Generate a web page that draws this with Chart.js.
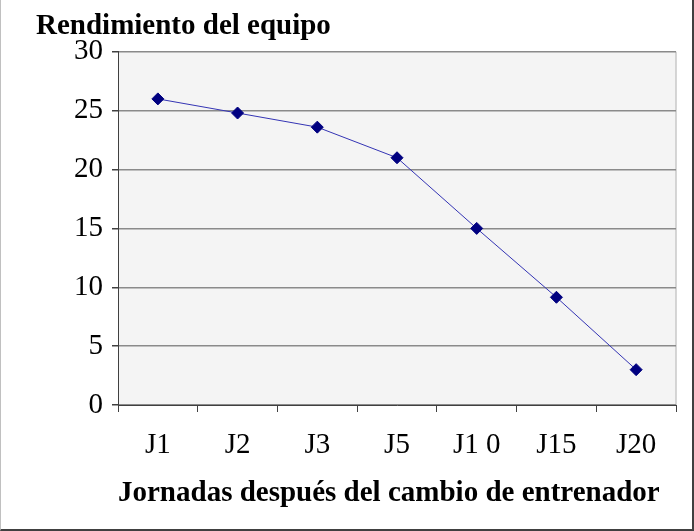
<!DOCTYPE html>
<html>
<head>
<meta charset="utf-8">
<script src="https://cdn.jsdelivr.net/npm/chart.js@4"></script>
<style>
  body { margin: 0; background: #fff; }
  #frame {
    width: 694px; height: 531px; box-sizing: border-box;
    border-left: 1px solid #c0c0c0;
    border-right: 2px solid #404040;
    border-bottom: 2px solid #404040;
  }
  canvas { display: block; }
</style>
</head>
<body>
<div id="frame"><canvas id="chart" width="691" height="529"></canvas></div>
<script>
// Jornadas and rendimiento
const jornadas = ["J1", "J2", "J3", "J5", "J1 0", "J15", "J20"];
const rendimiento = [26, 24.8, 23.6, 21, 15, 9.15, 3];
const yTicks = [0, 5, 10, 15, 20, 25, 30];

// grey plot background with a light right edge
const plotBackground = {
  id: "plotBackground",
  beforeDraw(chart) {
    const { ctx, chartArea: a } = chart;
    ctx.save();
    ctx.fillStyle = "#f4f4f4";
    ctx.fillRect(a.left, a.top, a.right - a.left, a.bottom - a.top);
    ctx.strokeStyle = "#c8c8c8";
    ctx.lineWidth = 1.5;
    ctx.beginPath();
    ctx.moveTo(a.right, a.top);
    ctx.lineTo(a.right, a.bottom);
    ctx.stroke();
    ctx.restore();
  }
};

const serif = "'Liberation Serif', 'DejaVu Serif', serif";

new Chart(document.getElementById("chart"), {
  type: "line",
  data: {
    labels: jornadas,
    datasets: [{
      data: rendimiento,
      borderColor: "#3434b4",
      borderWidth: 1,
      pointStyle: "rectRot",
      pointRadius: 6,
      pointBackgroundColor: "#000080",
      pointBorderColor: "#000080",
      pointBorderWidth: 1,
      tension: 0
    }]
  },
  options: {
    responsive: false,
    animation: false,
    layout: { padding: { left: 35, right: 16, top: 0, bottom: 0 } },
    plugins: {
      legend: { display: false },
      tooltip: { enabled: false },
      title: {
        display: true,
        text: "Rendimiento del equipo",
        align: "start",
        color: "#000",
        font: { family: serif, size: 29, weight: "bold" },
        padding: { top: 9, bottom: 8 }
      }
    },
    scales: {
      x: {
        offset: true,
        afterFit(s) { s.height = 124; },
        grid: {
          offset: true,
          drawOnChartArea: false,
          drawTicks: true,
          tickLength: 7,
          tickColor: "#404040"
        },
        border: { color: "#404040", width: 1 },
        ticks: {
          color: "#000",
          padding: 16,
          font: { family: serif, size: 29 }
        },
        title: {
          display: true,
          text: "Jornadas después del cambio de entrenador",
          align: "start",
          color: "#000",
          font: { family: serif, size: 29, weight: "bold" },
          padding: { top: 0, bottom: 18 }
        }
      },
      y: {
        min: 0,
        max: 30,
        afterFit(s) { s.width = 82; },
        afterBuildTicks(s) { s.ticks = yTicks.map(v => ({ value: v })); },
        grid: {
          color: "#8a8a8a",
          lineWidth: 1.5,
          tickLength: 6,
          tickColor: "#404040"
        },
        border: { color: "#404040", width: 1 },
        ticks: {
          color: "#000",
          padding: 9,
          font: { family: serif, size: 29 }
        }
      }
    }
  },
  plugins: [plotBackground]
});
</script>
</body>
</html>
